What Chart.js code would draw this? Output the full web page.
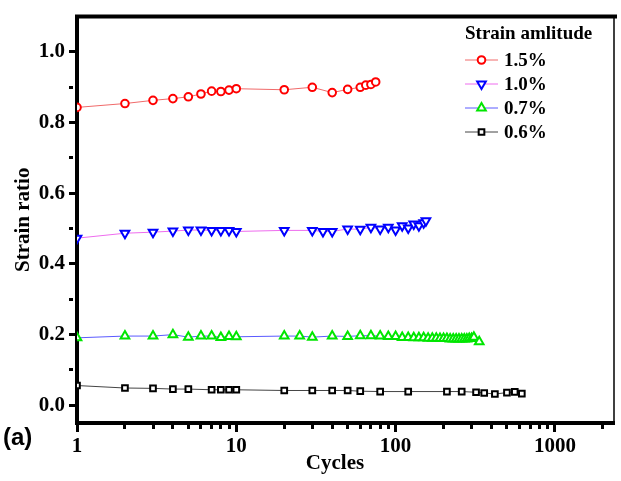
<!doctype html>
<html lang="en">
<head>
<meta charset="utf-8">
<title>Strain ratio vs cycles</title>
<script src="https://cdn.jsdelivr.net/npm/chart.js"></script>
<style>
    html, body {
        margin: 0;
        padding: 0;
        background: #fff;
    }

    #wrap {
        position: relative;
        width: 621px;
        height: 481px;
    }
</style>
</head>

<body>
<div id="wrap"><canvas id="ratioChart"></canvas></div>

<script>
    // strain ratio per cycle, one pair of arrays per strain amplitude
    const cycles15 = [1, 2, 3, 4, 5, 6, 7, 8, 9, 10, 20, 30, 40, 50, 60, 65, 70, 75];
    const ratio15 = [0.843, 0.854, 0.863, 0.868, 0.873, 0.881, 0.889, 0.888, 0.892, 0.896,
        0.893, 0.900, 0.885, 0.894, 0.900, 0.906, 0.908, 0.915];

    const cycles10 = [1, 2, 3, 4, 5, 6, 7, 8, 9, 10, 20, 30, 35, 40, 50, 60, 70, 80, 90, 100,
        110, 120, 130, 140, 150, 155];
    const ratio10 = [0.473, 0.487, 0.490, 0.493, 0.496, 0.496, 0.495, 0.495, 0.495, 0.492,
        0.495, 0.495, 0.492, 0.492, 0.499, 0.498, 0.504, 0.499, 0.504, 0.496,
        0.508, 0.502, 0.513, 0.508, 0.517, 0.522];

    const cycles07 = [1, 2, 3, 4, 5, 6, 7, 8, 9, 10, 20, 25, 30, 40, 50, 60, 70, 80, 90, 100,
        110, 120, 130, 140, 150, 160, 170, 180, 190, 200, 210, 220, 230, 240, 250, 260, 270, 280, 290, 300,
        310, 335];
    const ratio07 = [0.191, 0.196, 0.196, 0.200, 0.193, 0.196, 0.196, 0.192, 0.195, 0.194,
        0.196, 0.196, 0.193, 0.196, 0.195, 0.197, 0.197, 0.196, 0.195, 0.195,
        0.192, 0.192, 0.191, 0.191, 0.191, 0.190, 0.190, 0.190, 0.189, 0.189,
        0.189, 0.188, 0.188, 0.188, 0.188, 0.188, 0.188, 0.188, 0.189, 0.189,
        0.193, 0.180];

    const cycles06 = [1, 2, 3, 4, 5, 7, 8, 9, 10, 20, 30, 40, 50, 60, 80, 120, 210, 260, 320, 360,
        420, 500, 560, 620];
    const ratio06 = [0.056, 0.049, 0.048, 0.046, 0.046, 0.044, 0.044, 0.044, 0.044, 0.042,
        0.042, 0.042, 0.042, 0.040, 0.039, 0.039, 0.039, 0.039, 0.037, 0.035,
        0.032, 0.036, 0.038, 0.033];

    const seriesLabels = ['1.5%', '1.0%', '0.7%', '0.6%'];
    const legendTitle = 'Strain amlitude';

    const xTicks = [1, 2, 3, 4, 5, 6, 7, 8, 9, 10, 20, 30, 40, 50, 60, 70, 80, 90,
        100, 200, 300, 400, 500, 600, 700, 800, 900, 1000, 2000];
    const xLabelled = [1, 10, 100, 1000];
    const yTicks = [0, 0.1, 0.2, 0.3, 0.4, 0.5, 0.6, 0.7, 0.8, 0.9, 1.0];
    const yLabelled = [0, 0.2, 0.4, 0.6, 0.8, 1.0];

    const serif = "'Liberation Serif', 'Times New Roman', serif";

    function points(xs, ys) {
        return xs.map((x, i) => ({ x: x, y: ys[i] }));
    }

    function series(label, xs, ys, lineColor, markColor, style, rotation, radius) {
        return {
            label: label,
            data: points(xs, ys),
            borderColor: lineColor,
            borderWidth: 1,
            pointStyle: style,
            rotation: rotation,
            pointRadius: radius,
            pointBorderColor: markColor,
            pointBackgroundColor: '#fff',
            pointBorderWidth: 2,
            tension: 0
        };
    }

    function isMajorY(v) {
        return yLabelled.some(t => Math.abs(t - v) < 1e-6);
    }

    // thick top edge, thin right edge, the legend box and the loose labels
    const frameAndNotes = {
        id: 'frameAndNotes',
        afterDraw(chart) {
            const ctx = chart.ctx;
            const a = chart.chartArea;
            ctx.save();
            ctx.strokeStyle = '#000';
            ctx.lineWidth = 4;
            ctx.beginPath();
            ctx.moveTo(a.left - 2, a.top);
            ctx.lineTo(a.right + 3, a.top);
            ctx.stroke();
            ctx.lineWidth = 1.5;
            ctx.beginPath();
            ctx.moveTo(a.right, a.top);
            ctx.lineTo(a.right, a.bottom);
            ctx.stroke();

            // legend
            const lx = 465;
            ctx.fillStyle = '#000';
            ctx.textAlign = 'left';
            ctx.textBaseline = 'middle';
            ctx.font = 'bold 19px ' + serif;
            ctx.fillText(legendTitle, lx, 34);
            chart.data.datasets.forEach((ds, i) => {
                const y = 60 + i * 24;
                ctx.strokeStyle = ds.borderColor;
                ctx.lineWidth = 1;
                ctx.beginPath();
                ctx.moveTo(lx, y);
                ctx.lineTo(lx + 33, y);
                ctx.stroke();
                ctx.strokeStyle = ds.pointBorderColor;
                ctx.fillStyle = '#fff';
                ctx.lineWidth = 2;
                Chart.helpers.drawPoint(ctx, {
                    pointStyle: ds.pointStyle,
                    rotation: ds.rotation,
                    radius: ds.pointRadius,
                    borderWidth: 2
                }, lx + 16.5, y);
                ctx.fillStyle = '#000';
                ctx.font = 'bold 19px ' + serif;
                ctx.fillText(ds.label, lx + 39, y + 1);
            });

            // x axis title and panel tag
            ctx.font = 'bold 21px ' + serif;
            ctx.textAlign = 'center';
            ctx.fillText('Cycles', 335, 464);
            ctx.font = "bold 24px 'Liberation Sans', Arial, sans-serif";
            ctx.textAlign = 'left';
            ctx.fillText('(a)', 3, 438);
            ctx.restore();
        }
    };

    const ctx = document.getElementById('ratioChart').getContext('2d');

    const ratioChart = new Chart(ctx, {
        type: 'line',
        data: {
            datasets: [
                series(seriesLabels[0], cycles15, ratio15, '#f06a6a', '#ff0000', 'circle', 0, 3.8),
                series(seriesLabels[1], cycles10, ratio10, '#ee6cee', '#0000ff', 'triangle', 180, 5),
                series(seriesLabels[2], cycles07, ratio07, '#5a5aff', '#00e600', 'triangle', 0, 5),
                series(seriesLabels[3], cycles06, ratio06, '#444444', '#000000', 'rect', 0, 4)
            ]
        },
        options: {
            responsive: true,
            maintainAspectRatio: false,
            animation: false,
            layout: {
                padding: { top: 11, right: 3, left: 0, bottom: 0 }
            },
            plugins: {
                legend: { display: false },
                tooltip: { enabled: false }
            },
            scales: {
                x: {
                    type: 'logarithmic',
                    min: 1,
                    max: 2350,
                    z: 1,
                    afterFit: (scale) => { scale.height = 58; },
                    afterBuildTicks: (scale) => {
                        scale.ticks = xTicks.map(v => ({ value: v }));
                    },
                    border: { display: true, color: '#000', width: 4 },
                    grid: {
                        drawOnChartArea: false,
                        drawTicks: true,
                        tickLength: 9,
                        tickColor: '#000',
                        tickWidth: 3,
                        tickBorderDash: (c) => xLabelled.includes(c.tick.value) ? [] : [4, 30]
                    },
                    ticks: {
                        autoSkip: false,
                        maxRotation: 0,
                        padding: 2,
                        color: '#000',
                        font: { family: serif, size: 21, weight: 'bold' },
                        callback: (v) => xLabelled.includes(v) ? String(v) : ''
                    }
                },
                y: {
                    type: 'linear',
                    min: -0.05,
                    max: 1.1,
                    z: 1,
                    afterFit: (scale) => { scale.width = 77; },
                    afterBuildTicks: (scale) => {
                        scale.ticks = yTicks.map(v => ({ value: v }));
                    },
                    border: { display: true, color: '#000', width: 4 },
                    grid: {
                        drawOnChartArea: false,
                        drawTicks: true,
                        tickLength: 8,
                        tickColor: '#000',
                        tickWidth: 3,
                        tickBorderDash: (c) => isMajorY(c.tick.value) ? [] : [4, 30]
                    },
                    ticks: {
                        padding: 4,
                        color: '#000',
                        font: { family: serif, size: 21, weight: 'bold' },
                        callback: (v) => isMajorY(v) ? v.toFixed(1) : ''
                    },
                    title: {
                        display: true,
                        text: 'Strain ratio',
                        color: '#000',
                        padding: { top: 11, bottom: 0 },
                        font: { family: serif, size: 21, weight: 'bold' }
                    }
                }
            }
        },
        plugins: [frameAndNotes]
    });
</script>
</body>

</html>
